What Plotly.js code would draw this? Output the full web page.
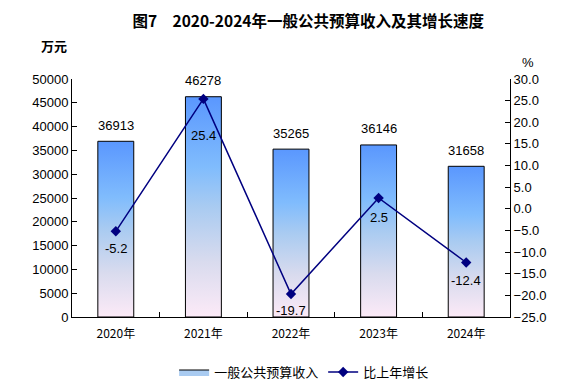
<!DOCTYPE html>
<html><head><meta charset="utf-8">
<script src="https://cdn.plot.ly/plotly-3.0.1.min.js"></script>
<style>html,body{margin:0;padding:0;background:#fff}#chart{width:576px;height:390px}</style>
</head><body><div id="chart"></div>
<script>
const years = ['2020年','2021年','2022年','2023年','2024年'];
const revenue = [36913, 46278, 35265, 36146, 31658];
const growth = [-5.2, 25.4, -19.7, 2.5, -12.4];
const revenueLabels = ['36913','46278','35265','36146','31658'];
const growthLabels = ['-5.2','25.4','-19.7','2.5','-12.4'];

const barHalf = 0.205;
const gradScale = [[0,'#fceaf7'],[0.25,'#d9dbee'],[0.5,'#a9cbf1'],[0.68,'#80bcfd'],[1,'#5a97fe']];
const FONT = 'Liberation Sans, Arial, sans-serif';
const CJK = 'Noto Sans CJK SC, sans-serif';
const growthShift = [-17, -37, -16, -19, -18];

const traces = [];
revenue.forEach((v, i) => {
  traces.push({
    type: 'scatter', mode: 'lines',
    x: [i - barHalf, i - barHalf, i + barHalf, i + barHalf, i - barHalf],
    y: [0, v, v, 0, 0],
    fill: 'toself',
    fillgradient: {type: 'vertical', colorscale: gradScale, start: 0, stop: v},
    line: {color: '#000', width: 1},
    name: '一般公共预算收入',
    showlegend: false,
    hoverinfo: 'skip',
    xaxis: 'x', yaxis: 'y'
  });
});
// legend entry for the bars
traces.push({
  type: 'scatter', mode: 'lines', x: [null], y: [null],
  fill: 'toself', fillcolor: '#a9cbf1', line: {color: '#000', width: 1},
  name: '一般公共预算收入', showlegend: true, xaxis: 'x', yaxis: 'y'
});
traces.push({
  type: 'scatter', mode: 'lines+markers',
  x: years.map((_, i) => i), y: growth,
  line: {color: '#000080', width: 1.5},
  marker: {symbol: 'diamond', size: 8, color: '#000080'},
  name: '比上年增长',
  xaxis: 'x2', yaxis: 'y2'
});

const annotations = [];
revenue.forEach((v, i) => annotations.push({
  text: revenueLabels[i], x: i, y: v, xref: 'x', yref: 'y', showarrow: false,
  yshift: 16, xanchor: 'center', yanchor: 'middle', font: {family: FONT, size: 13, color: '#000'}
}));
growth.forEach((v, i) => annotations.push({
  text: growthLabels[i], x: i, y: v, xref: 'x2', yref: 'y2', showarrow: false,
  yshift: growthShift[i], xanchor: 'center', yanchor: 'middle', font: {family: FONT, size: 13, color: '#000'}
}));
annotations.push(
  {text: '万元', xref: 'paper', yref: 'paper', x: -0.04, y: 1.14, xanchor: 'center', yanchor: 'middle', showarrow: false, font: {family: CJK, size: 13, color: '#000', weight: 'bold'}},
  {text: '%', xref: 'paper', yref: 'paper', x: 1.04, y: 1.07, xanchor: 'center', yanchor: 'middle', showarrow: false, font: {family: FONT, size: 13, color: '#000'}}
);

const layout = {
  width: 576, height: 390,
  margin: {l: 72, r: 66, t: 79, b: 73, autoexpand: false},
  paper_bgcolor: '#fff', plot_bgcolor: '#fff',
  font: {family: FONT, size: 13, color: '#000'},
  title: {text: '图7　2020-2024年一般公共预算收入及其增长速度', font: {family: CJK, size: 15.5, color: '#000', weight: 'bold'}, x: 0.535, xanchor: 'center', y: 0.945, yanchor: 'middle'},
  showlegend: true,
  legend: {orientation: 'h', x: 0.53, xanchor: 'center', yref: 'container', y: 0.046, yanchor: 'middle', font: {family: CJK, size: 13, color: '#000'}, itemwidth: 30, tracegroupgap: 0},
  xaxis: {
    range: [-0.5, 4.5], tickvals: years.map((_, i) => i), ticktext: years,
    ticks: '', ticklabelstandoff: 6, showgrid: false, zeroline: false, showline: true, linecolor: '#000', linewidth: 1,
    tickfont: {family: CJK, size: 12, color: '#000'}, fixedrange: true
  },
  xaxis2: {
    overlaying: 'x', anchor: 'y', side: 'bottom', range: [-0.5, 4.5],
    tickvals: [0.5, 1.5, 2.5, 3.5], ticks: 'inside', ticklen: 5, tickcolor: '#000',
    showticklabels: false, showgrid: false, zeroline: false, showline: false
  },
  yaxis: {
    range: [0, 50000], dtick: 5000, tick0: 0, tickformat: 'd', ticks: 'inside', ticklen: 5, tickcolor: '#000',
    showgrid: false, zeroline: false, showline: true, linecolor: '#000', linewidth: 1,
    tickfont: {family: FONT, size: 13, color: '#000'}
  },
  yaxis2: {
    overlaying: 'y', side: 'right', anchor: 'x', range: [-25, 30], dtick: 5, tick0: 0,
    tickformat: '.1f', ticks: 'inside', ticklen: 5, tickcolor: '#000',
    showgrid: false, zeroline: false, showline: true, linecolor: '#000', linewidth: 1,
    tickfont: {family: FONT, size: 13, color: '#000'}
  },
  annotations: annotations
};
Plotly.newPlot('chart', traces, layout, {staticPlot: true});
</script></body></html>
